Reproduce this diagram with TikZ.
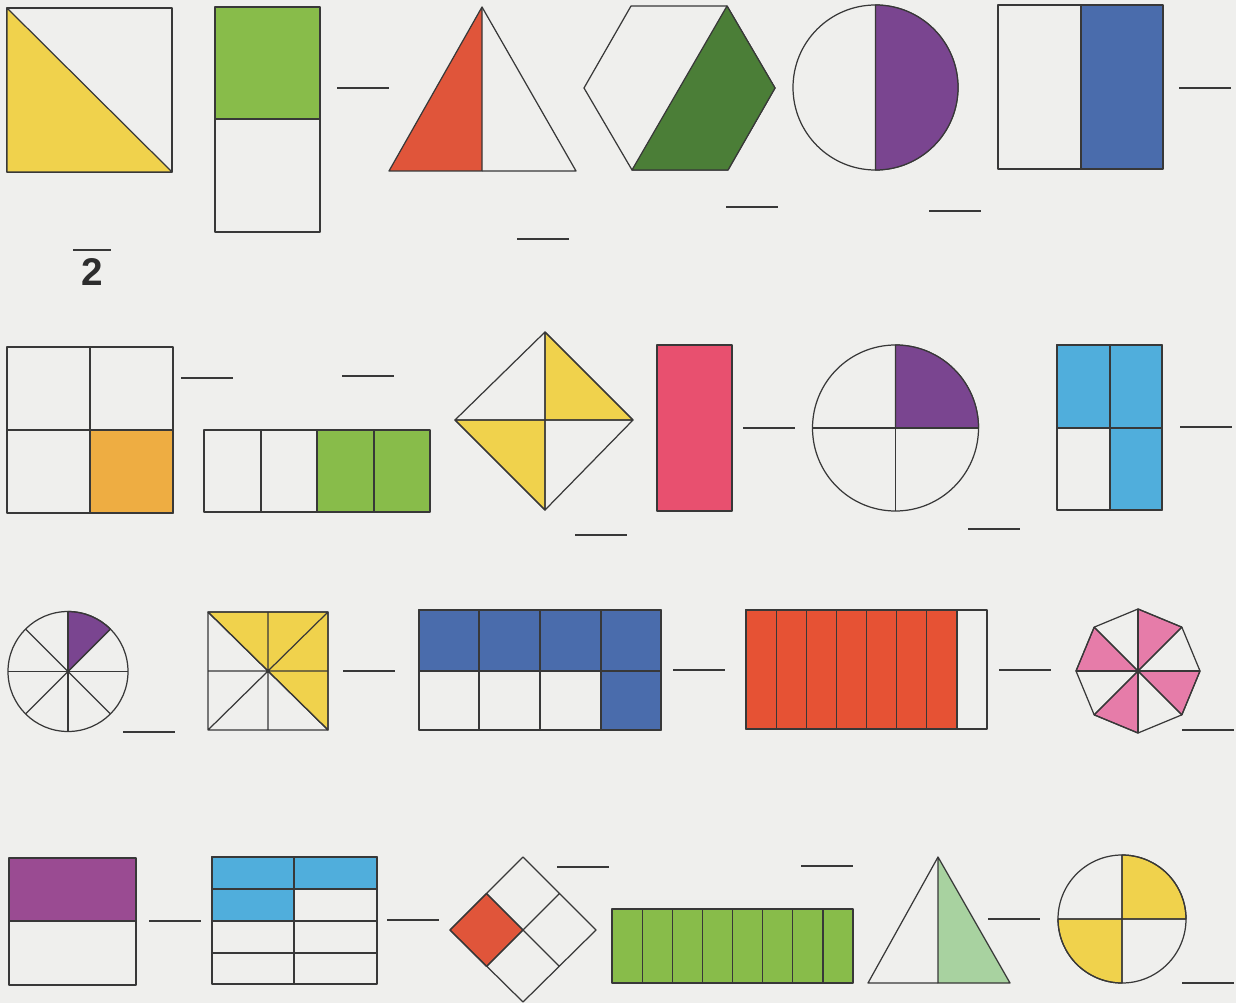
\documentclass[tikz,border=0pt]{standalone}
\usepackage{fontspec}
\setmainfont{Liberation Sans}

\definecolor{paper}{HTML}{EFEFED}
\definecolor{edge}{HTML}{383838}
\definecolor{fyellow}{HTML}{F0D24C}
\definecolor{fgreen}{HTML}{88BC4A}
\definecolor{fred}{HTML}{E0553A}
\definecolor{fdkgreen}{HTML}{4B7E37}
\definecolor{fpurple}{HTML}{7A4590}
\definecolor{fblue}{HTML}{4A6CAC}
\definecolor{forange}{HTML}{EEAD42}
\definecolor{fpink}{HTML}{E8506F}
\definecolor{fsky}{HTML}{50AEDC}
\definecolor{frose}{HTML}{E67CA9}
\definecolor{fmagenta}{HTML}{9A4B92}
\definecolor{fmint}{HTML}{A8D2A0}
\definecolor{fvermilion}{HTML}{E65234}

\tikzset{
	part/.style={draw=edge, line width=0.7pt, line join=round},
	blank/.style={draw=edge, line width=1.6pt},
}
\newcommand{\answerline}[2]{\draw[blank] (#1,#2) -- ++(52,0);}

\begin{document}
\begin{tikzpicture}[x=0.02cm, y=-0.02cm, every path/.append style={part}]

			\fill[paper, draw=none] (0,0) rectangle (1236,1003);
			\useasboundingbox[draw=none] (0,0) rectangle (1236,1003);

			% row 1
			\draw (7,8) rectangle (172,172);
			\filldraw[fill=fyellow] (7,8) -- (172,172) -- (7,172) -- cycle;

			\filldraw[fill=fgreen] (215,7) rectangle (320,119);
			\draw (215,119) rectangle (320,232);
			\answerline{337}{88}

			\draw[line width=1pt] (73,250) -- (111,250);
			\node[draw=none, font=\bfseries\fontsize{22}{24}\selectfont, text=edge!80!black] (denom) at (92,272) {2};

			\filldraw[fill=fred] (389,171) -- (482,7) -- (482,171) -- cycle;
			\draw (482,7) -- (576,171) -- (482,171);
			\answerline{517}{239}

			\draw (631,6) -- (727,6) -- (775,88) -- (728,170) -- (632,170) -- (584,88) -- cycle;
			\filldraw[fill=fdkgreen] (727,6) -- (775,88) -- (728,170) -- (632,170) -- cycle;
			\answerline{726}{207}

			\begin{scope}[shift={(875.5,87.5)}, yscale=-1]
				\draw (0,0) circle (82.5);
				\filldraw[fill=fpurple] (0,82.5) arc[start angle=90, end angle=-90, radius=82.5] -- cycle;
			\end{scope}
			\answerline{929}{211}

			\draw (998,5) rectangle (1081,169);
			\filldraw[fill=fblue] (1081,5) rectangle (1163,169);
			\answerline{1179}{88}

			% row 2
			\filldraw[fill=forange] (90,430) rectangle (173,513);
			\draw (7,347) rectangle (173,513) (90,347) -- (90,513) (7,430) -- (173,430);
			\answerline{181}{378}
			\answerline{342}{376}

			\draw (204,430) rectangle (317,512) (261,430) -- (261,512);
			\filldraw[fill=fgreen] (317,430) rectangle (430,512);
			\draw (374,430) -- (374,512);

			\filldraw[fill=fyellow] (545,332) -- (633,420) -- (545,420) -- cycle;
			\filldraw[fill=fyellow] (455,420) -- (545,420) -- (545,510) -- cycle;
			\draw (545,332) -- (633,420) -- (545,510) -- (455,420) -- cycle
				(545,332) -- (545,510) (455,420) -- (633,420);
			\answerline{575}{535}

			\filldraw[fill=fpink] (657,345) rectangle (732,511);
			\answerline{743}{428}

			\begin{scope}[shift={(895.5,428)}, yscale=-1]
				\draw (0,0) circle (83);
				\filldraw[fill=fpurple] (0,0) -- (83,0) arc[start angle=0, end angle=90, radius=83] -- cycle;
				\draw (-83,0) -- (83,0) (0,-83) -- (0,83);
			\end{scope}
			\answerline{968}{529}

			\filldraw[fill=fsky] (1057,345) rectangle (1162,428);
			\filldraw[fill=fsky] (1110,428) rectangle (1162,510);
			\draw (1057,345) rectangle (1162,510) (1110,345) -- (1110,510) (1057,428) -- (1162,428);
			\answerline{1180}{427}

			% row 3
			\begin{scope}[shift={(68,671.5)}, yscale=-1]
				\filldraw[fill=fpurple] (0,0) -- (45:60) arc[start angle=45, end angle=90, radius=60] -- cycle;
				\foreach \a in {0,45,...,315}
					\draw (0,0) -- (\a:60);
				\draw (0,0) circle (60);
			\end{scope}
			\answerline{123}{732}

			\filldraw[fill=fyellow] (208,612) -- (328,612) -- (328,730) -- (268,671) -- cycle;
			\draw (208,612) rectangle (328,730) (268,612) -- (268,730) (208,671) -- (328,671)
				(208,612) -- (328,730) (328,612) -- (208,730);
			\answerline{343}{671}

			\filldraw[fill=fblue] (419,610) rectangle (661,671);
			\filldraw[fill=fblue] (601,671) rectangle (661,730);
			\draw (419,610) rectangle (661,730) (419,671) -- (661,671);
			\foreach \x in {479,540,601}
				\draw (\x,610) -- (\x,730);
			\answerline{673}{670}

			\filldraw[fill=fvermilion] (746,610) rectangle (957,729);
			\draw (746,610) rectangle (987,729);
			\foreach \k in {1,...,7}
				\draw ({746+\k*30.125},610) -- ++(0,119);
			\answerline{999}{670}

			\begin{scope}[shift={(1138,671)}, yscale=-1]
				\foreach \a in {45,135,225,315}
					\filldraw[fill=frose] (0,0) -- (\a:62) -- (\a+45:62) -- cycle;
				\draw (0:62) \foreach \a in {45,90,...,315} { -- (\a:62) } -- cycle;
				\foreach \a in {0,45,...,315}
					\draw (0,0) -- (\a:62);
			\end{scope}
			\answerline{1182}{730}

			% row 4
			\filldraw[fill=fmagenta] (9,858) rectangle (136,921);
			\draw (9,921) rectangle (136,985);
			\answerline{149}{921}

			\filldraw[fill=fsky] (212,857) rectangle (377,889);
			\filldraw[fill=fsky] (212,889) rectangle (294,921);
			\draw (212,857) rectangle (377,984) (294,857) -- (294,984);
			\foreach \y in {889,921,953}
				\draw (212,\y) -- (377,\y);
			\answerline{387}{920}

			\filldraw[fill=fred] (450,930) -- (486.5,893.5) -- (523,930) -- (486.5,966.5) -- cycle;
			\draw (523,857) -- (596,930) -- (523,1002) -- (450,930) -- cycle
				(486.5,893.5) -- (559.5,966.5) (559.5,893.5) -- (486.5,966.5);
			\answerline{557}{867}

			\filldraw[fill=fgreen] (612,909) rectangle (853,983);
			\foreach \k in {1,...,7}
				\draw ({612+\k*30.125},909) -- ++(0,74);
			\answerline{801}{866}

			\filldraw[fill=fmint] (938,857) -- (1010,983) -- (938,983) -- cycle;
			\draw (938,857) -- (868,983) -- (938,983);
			\answerline{988}{919}

			\begin{scope}[shift={(1122,919)}, yscale=-1]
				\filldraw[fill=fyellow] (0,0) -- (64,0) arc[start angle=0, end angle=90, radius=64] -- cycle;
				\filldraw[fill=fyellow] (0,0) -- (-64,0) arc[start angle=180, end angle=270, radius=64] -- cycle;
				\draw (0,0) circle (64) (-64,0) -- (64,0) (0,-64) -- (0,64);
			\end{scope}
			\answerline{1182}{983}

		\end{tikzpicture}
\end{document}
